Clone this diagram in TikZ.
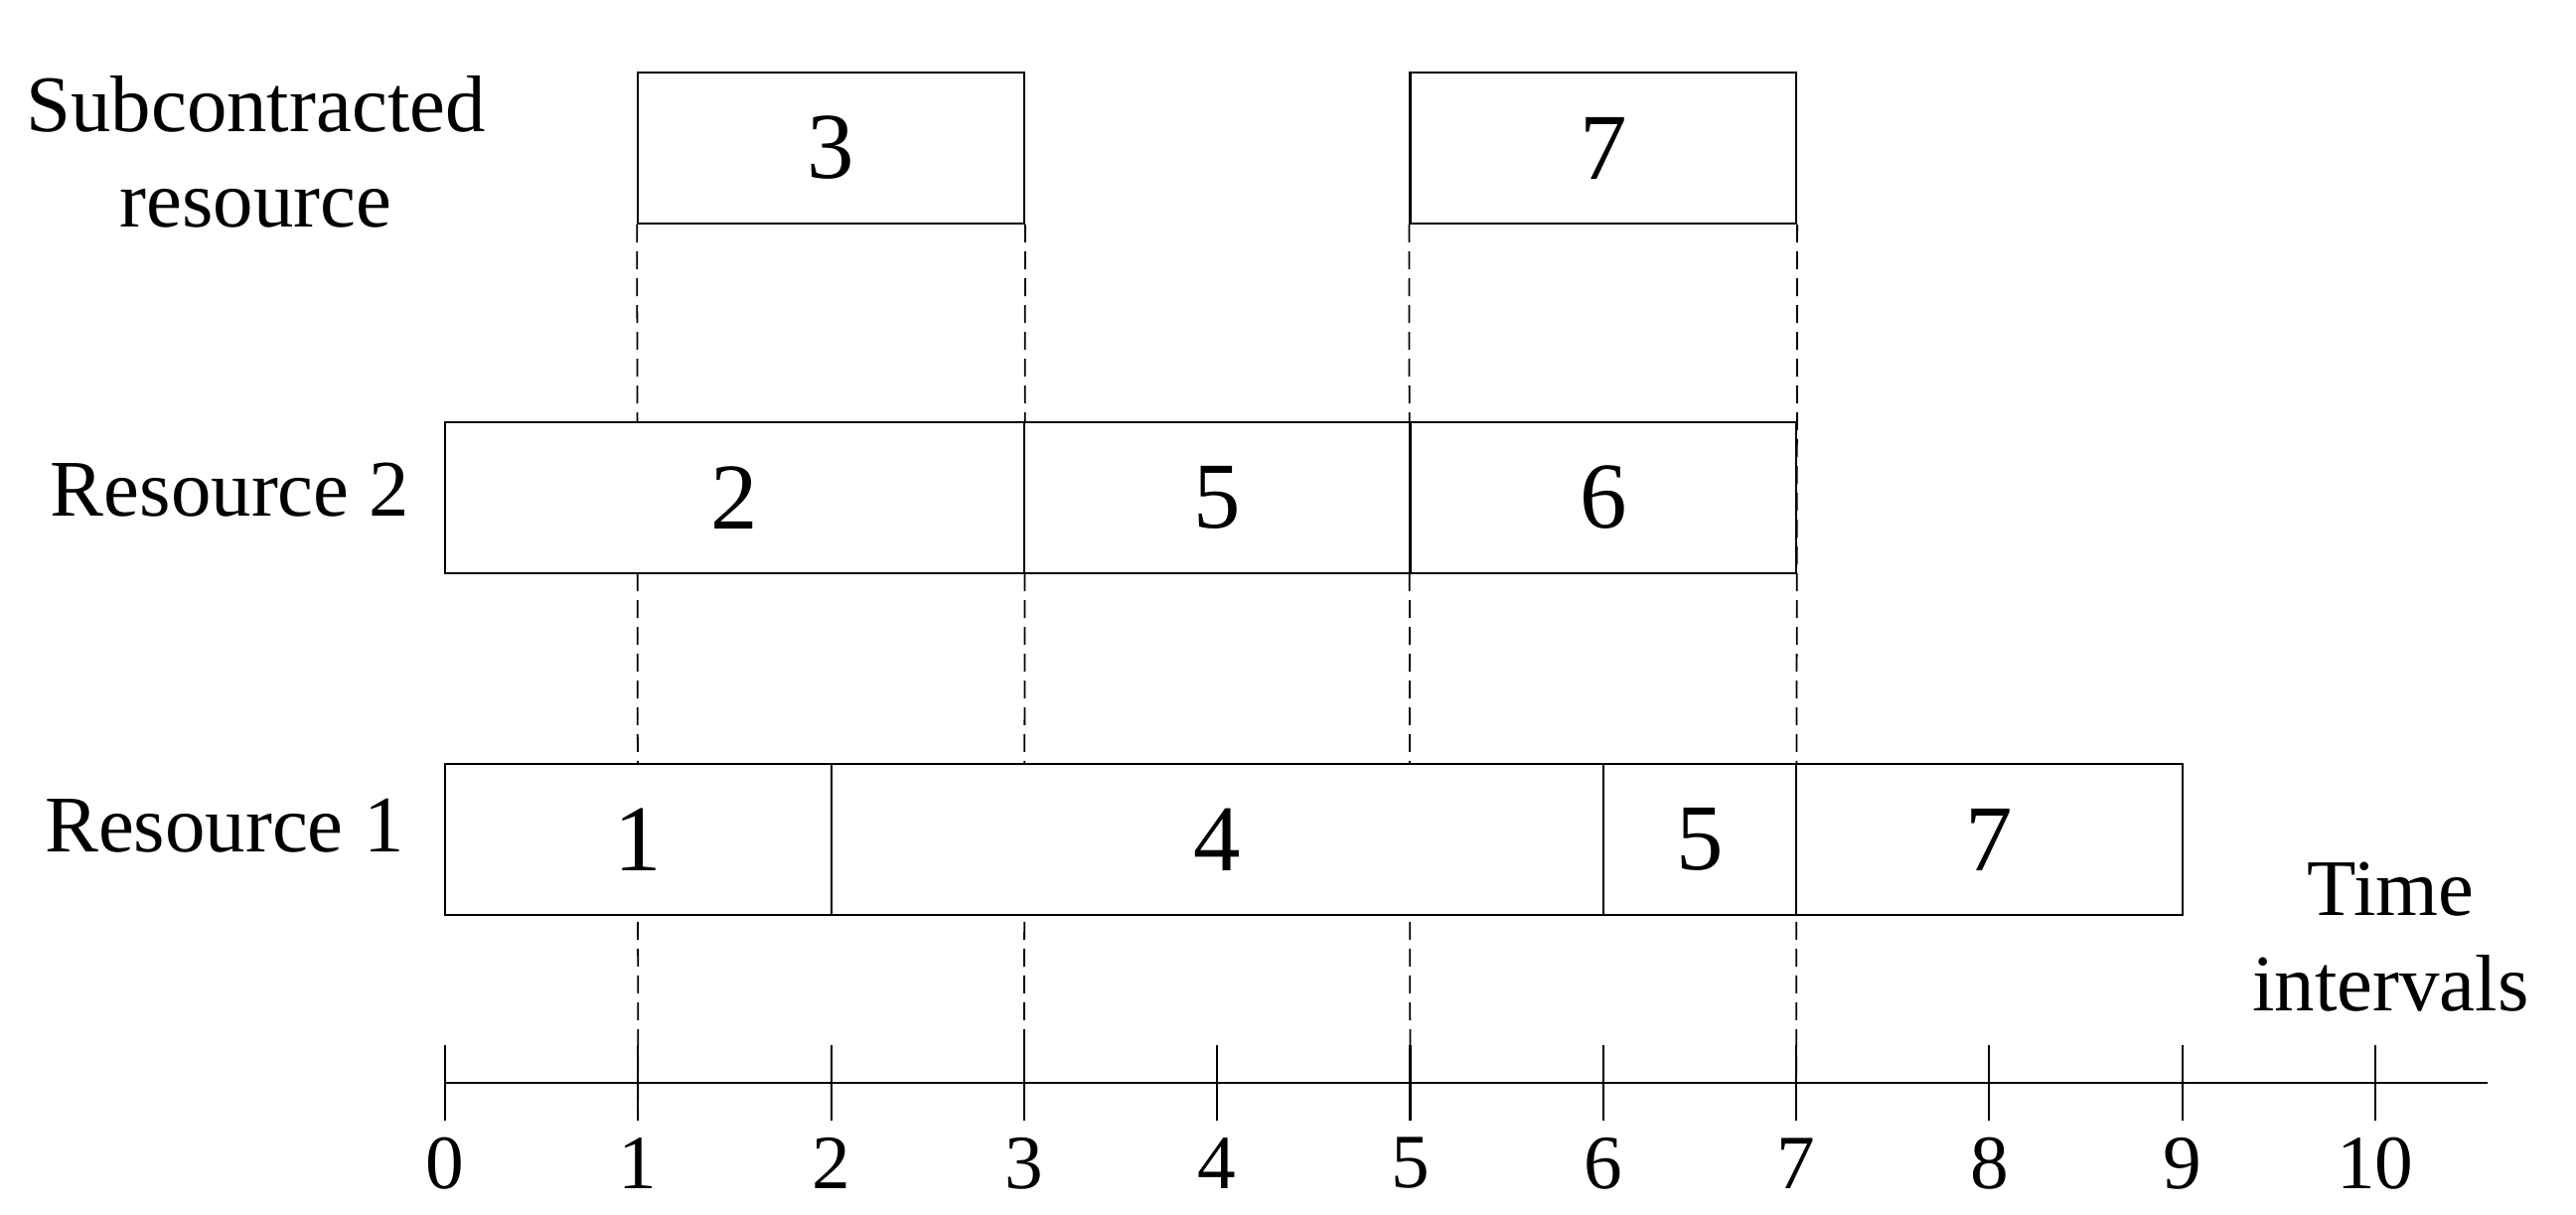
\documentclass[tikz,border=0pt]{standalone}
\usepackage{fontspec}
\setmainfont{Liberation Serif}
\usetikzlibrary{calc}
\tikzset{
    task/.style = {draw, fill=white, rectangle, line width=0.6pt,
        minimum height=1.52cm, inner sep=0pt,
        minimum width=#1*1.943cm,
        font=\fontsize{27}{32}\selectfont},
    task/.default = 1,
    rowlabel/.style = {anchor=east, align=center,
        font=\fontsize{23}{27.5}\selectfont},
    ticklabel/.style = {font=\fontsize{22}{26}\selectfont},
    guide/.style = {draw, line width=0.5pt, dash pattern=on 0.18cm off 0.09cm}
}
\begin{document}
\begin{tikzpicture}[x=1.943cm, y=1cm]
  \useasboundingbox (-2.306,0) rectangle (11.04,12.23);
  % time axis
  \coordinate (axisL) at (0,1.33);
  \coordinate (axisR) at (10.58,1.33);
  \draw[line width=0.6pt] (axisL) -- (axisR);
  \foreach \t in {0,1,...,10}{
    \coordinate (kt\t) at (\t,1.71);
    \coordinate (kb\t) at (\t,0.95);
    \draw[line width=0.6pt] (kt\t) -- (kb\t);
    \node[ticklabel] (tl\t) at (\t,0.52) {\t};
  };
  % subcontracted resource
  \node[task=2] (sub3) at (2,10.74) {3};
  \node[task=2] (sub7) at (6,10.74) {7};
  % dashed guides
  \draw[guide] (sub3.south west) -- (kb1);
  \draw[guide] (sub3.south east) -- (kb3);
  \draw[guide] (sub7.south west) -- (kb5);
  \draw[guide] (sub7.south east) -- (kb7);
  % resource 2
  \node[task=3] (rb2) at (1.5,7.22) {2};
  \node[task=2] (rb5) at (4,7.22) {5};
  \node[task=2] (rb6) at (6,7.22) {6};
  % resource 1
  \node[task=2] (ra1) at (1,3.78) {1};
  \node[task=4] (ra4) at (4,3.78) {4};
  \node[task=1] (ra5) at (6.5,3.78) {5};
  \node[task=2] (ra7) at (8,3.78) {7};
  % labels
  \node[rowlabel, anchor=center] (lsub) at (-0.98,10.70) {Subcontracted\\resource};
  \node[rowlabel] (lr2) at (-0.12,7.30) {Resource 2};
  \node[rowlabel] (lr1) at (-0.15,3.92) {Resource 1};
  \node[rowlabel, anchor=center] (ltime) at (10.08,2.80) {Time\\intervals};
\end{tikzpicture}
\end{document}
